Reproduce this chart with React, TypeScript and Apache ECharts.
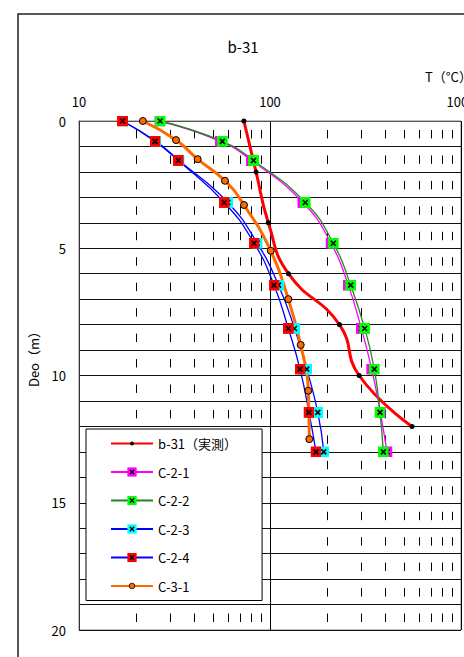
import React, { useEffect, useRef } from 'react';
import * as echarts from 'echarts';

// Measured temperature profile (b-31)
const depthB31 = [0, 2, 4, 6, 8, 10, 12];
const tempB31 = [73, 84.5, 98, 125, 231, 293, 554];

// Model profiles C-2-x share the same depth nodes
const depthC2 = [0, 0.8, 1.55, 3.2, 4.8, 6.45, 8.15, 9.75, 11.45, 13.0];
const tempC21 = [26.5, 55, 80, 148.5, 208.6, 257, 300.6, 340.8, 378, 409.8];
const tempC22 = [26.6, 56.3, 82, 153, 214.5, 264.5, 313.2, 351.6, 376.6, 392];
const tempC23 = [16.9, 25.3, 33.4, 60.1, 85.7, 110.8, 134.4, 155.8, 177.9, 191.3];
const tempC24 = [16.9, 25.0, 33.1, 57.6, 82.5, 105, 124.7, 143.6, 160, 174.1];

// Model profile C-3-1
const depthC31 = [0, 0.75, 1.5, 2.35, 3.3, 5.1, 7.0, 8.8, 10.6, 12.5];
const tempC31 = [21.6, 32.2, 41.8, 58.1, 73.1, 100.9, 124.7, 144.8, 158.7, 160.6];

// Axis ranges and minor (dashed) temperature grid values
const tempRange = [10, 1000];
const depthRange = [0, 20];
const depthLabelStep = 5;
const minorTemps = [20, 30, 40, 50, 60, 70, 80, 90, 200, 300, 400, 500, 600, 700, 800, 900];

const FONT = '"Noto Sans CJK JP", "Noto Sans", sans-serif';

const pairs = (t: number[], d: number[]) => t.map((v, i) => [v, d[i]]);

const svgSymbol = (svg: string) =>
  'image://data:image/svg+xml;charset=utf-8,' + encodeURIComponent(svg);

const boxCross = (fill: string) =>
  svgSymbol(
    `<svg xmlns="http://www.w3.org/2000/svg" width="22" height="22" viewBox="0 0 22 22">` +
      `<rect width="22" height="22" fill="${fill}"/>` +
      `<path d="M6 6L16 16M16 6L6 16" stroke="#000" stroke-width="3" fill="none"/></svg>`
  );

const dotSymbol = svgSymbol(
  `<svg xmlns="http://www.w3.org/2000/svg" width="24" height="24" viewBox="0 0 24 24">` +
    `<circle cx="12" cy="12" r="5" fill="#000"/></svg>`
);

const ringSymbol = svgSymbol(
  `<svg xmlns="http://www.w3.org/2000/svg" width="24" height="24" viewBox="0 0 24 24">` +
    `<circle cx="12" cy="12" r="7" fill="#ff6a00" stroke="#000" stroke-width="2"/></svg>`
);

const minorGridData: number[][] = [];
for (const t of minorTemps) {
  for (let r = depthRange[0]; r < depthRange[1]; r++) minorGridData.push([t, r]);
}

export default function App() {
  const ref = useRef<HTMLDivElement>(null);

  useEffect(() => {
    if (!ref.current) return;
    const chart = echarts.init(ref.current, null, { renderer: 'svg' });

    const lineSeries = (
      name: string,
      data: number[][],
      color: string,
      width: number,
      symbol: string,
      size: number
    ) => ({
      name,
      type: 'line',
      data,
      smooth: 0.5,
      symbol,
      symbolSize: size,
      showSymbol: true,
      lineStyle: { color, width },
      itemStyle: { color },
      z: 3,
    });

    chart.setOption({
      animation: false,
      textStyle: { fontFamily: FONT },
      grid: {
        left: 79,
        top: 121,
        width: 382,
        height: 509,
        show: true,
        borderColor: '#808080',
        borderWidth: 1,
        containLabel: false,
        outerBoundsMode: 'none',
      },
      xAxis: {
        type: 'log',
        logBase: 10,
        min: tempRange[0],
        max: tempRange[1],
        position: 'top',
        axisLine: { show: true, lineStyle: { color: '#555', width: 1 } },
        axisTick: { show: false },
        axisLabel: {
          color: '#000',
          fontSize: 13,
          margin: 13,
          fontFamily: FONT,
          formatter: (v: number) => String(Math.round(v)),
        },
        splitLine: { show: true, lineStyle: { color: '#000', width: 1 } },
      },
      yAxis: {
        type: 'value',
        inverse: true,
        min: depthRange[0],
        max: depthRange[1],
        interval: 1,
        axisLine: { show: true, lineStyle: { color: '#333', width: 1 } },
        axisTick: { show: false },
        axisLabel: {
          color: '#000',
          fontSize: 13,
          margin: 13,
          fontFamily: FONT,
          formatter: (v: number) => (v % depthLabelStep === 0 ? String(v) : ''),
        },
        splitLine: { show: true, lineStyle: { color: '#111', width: 1 } },
      },
      legend: {
        orient: 'vertical',
        left: 86,
        top: 429,
        padding: [8, 25, 8, 24],
        itemGap: 15.5,
        itemWidth: 42,
        itemHeight: 12,
        borderColor: '#000',
        borderWidth: 1,
        backgroundColor: '#fff',
        selectedMode: false,
        textStyle: { fontSize: 13, color: '#000', fontFamily: FONT },
        data: ['b-31（実測）', 'C-2-1', 'C-2-2', 'C-2-3', 'C-2-4', 'C-3-1'],
        z: 10,
      },
      graphic: [
        {
          type: 'rect',
          shape: { x: 18, y: 14, width: 500, height: 700 },
          style: { fill: 'none', stroke: '#222', lineWidth: 1.5 },
          z: -1,
          silent: true,
        },
        {
          type: 'text',
          x: 243,
          y: 46,
          style: {
            text: 'b-31',
            fontSize: 15,
            fontFamily: FONT,
            fill: '#000',
            align: 'center',
            verticalAlign: 'middle',
          },
        },
        {
          type: 'text',
          x: 425,
          y: 76,
          style: {
            text: 'T（°C）',
            fontSize: 13,
            fontFamily: FONT,
            fill: '#000',
            align: 'left',
            verticalAlign: 'middle',
          },
        },
        {
          type: 'text',
          x: 33,
          y: 356,
          rotation: Math.PI / 2,
          style: {
            text: 'Deo（m）',
            fontSize: 13,
            fontFamily: FONT,
            fill: '#000',
            align: 'center',
            verticalAlign: 'middle',
          },
        },
      ],
      series: [
        {
          type: 'custom',
          silent: true,
          data: minorGridData,
          z: 1,
          renderItem: (_params: any, api: any) => {
            const t = api.value(0);
            const r = api.value(1);
            const p1 = api.coord([t, r + 0.354]);
            const p2 = api.coord([t, r + 0.684]);
            const x = Math.round(p1[0]) + 0.5;
            return {
              type: 'line',
              shape: { x1: x, y1: p1[1], x2: x, y2: p2[1] },
              style: { stroke: '#000', lineWidth: 1 },
            };
          },
        },
        lineSeries('b-31（実測）', pairs(tempB31, depthB31), '#ff0000', 3, dotSymbol, 12),
        lineSeries('C-2-1', pairs(tempC21, depthC2), '#ff00ff', 1.3, boxCross('#ff00ff'), 11),
        lineSeries('C-2-2', pairs(tempC22, depthC2), '#1e8a1e', 1.3, boxCross('#00ff00'), 11),
        lineSeries('C-2-3', pairs(tempC23, depthC2), '#0000ff', 1.3, boxCross('#00ffff'), 11),
        lineSeries('C-2-4', pairs(tempC24, depthC2), '#0000ff', 1.3, boxCross('#ff0000'), 11),
        lineSeries('C-3-1', pairs(tempC31, depthC31), '#ff6a00', 3, ringSymbol, 12),
      ],
    });

    return () => chart.dispose();
  }, []);

  return (
    <div
      ref={ref}
      style={{ position: 'absolute', left: 0, top: 0, width: 464, height: 657, background: '#fff' }}
    />
  );
}
